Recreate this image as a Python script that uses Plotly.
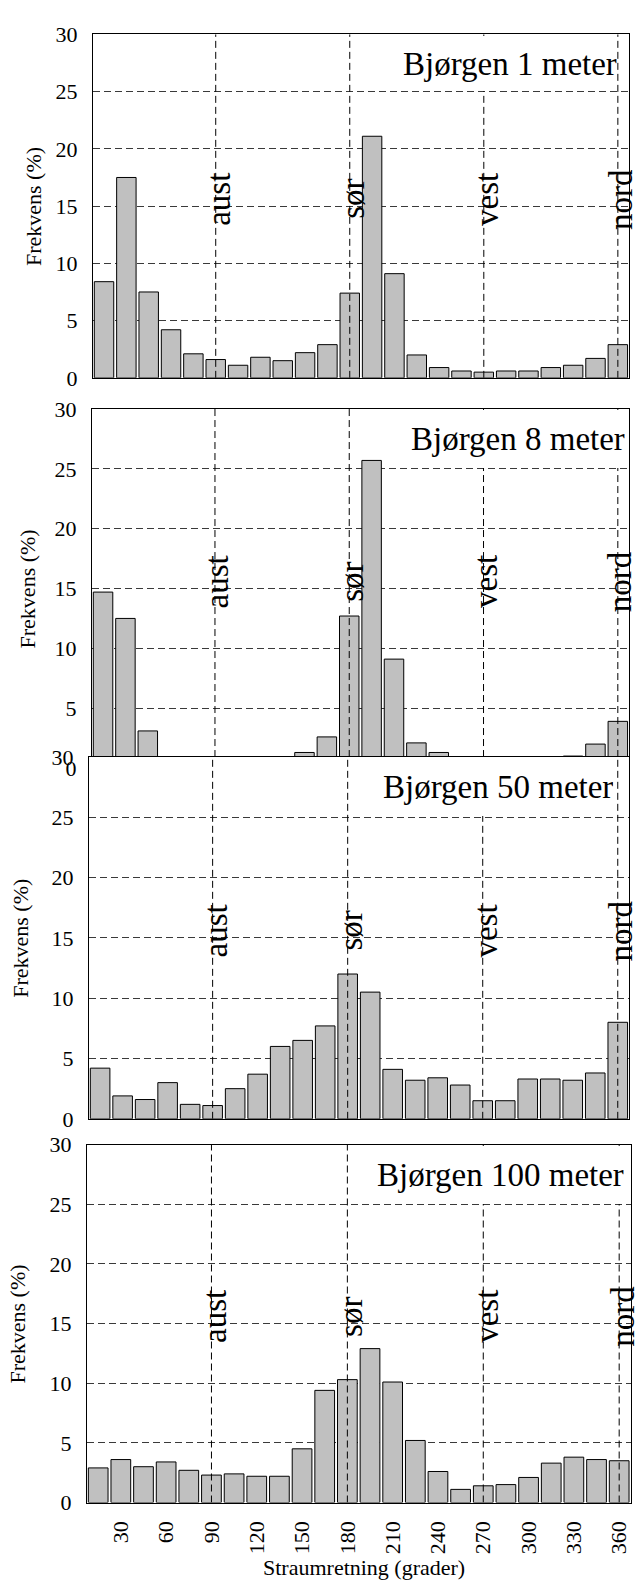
import plotly.graph_objects as go

# Current direction bins (degrees) and frequency (%) per depth
direction = [15, 30, 45, 60, 75, 90, 105, 120, 135, 150, 165, 180,
             195, 210, 225, 240, 255, 270, 285, 300, 315, 330, 345, 360]

freq_1m = [8.4, 17.5, 7.5, 4.2, 2.1, 1.6, 1.1, 1.8, 1.5, 2.2, 2.9, 7.4,
           21.1, 9.1, 2.0, 0.9, 0.6, 0.5, 0.6, 0.6, 0.9, 1.1, 1.7, 2.9]
freq_8m = [14.7, 12.5, 3.1, 0.0, 0.0, 0.0, 0.0, 0.0, 0.0, 1.3, 2.6, 12.7,
           25.7, 9.1, 2.1, 1.3, 0.0, 0.0, 0.0, 0.0, 0.0, 1.0, 2.0, 3.9]
freq_50m = [4.2, 1.9, 1.6, 3.0, 1.2, 1.1, 2.5, 3.7, 6.0, 6.5, 7.7, 12.0,
            10.5, 4.1, 3.2, 3.4, 2.8, 1.5, 1.5, 3.3, 3.3, 3.2, 3.8, 8.0]
freq_100m = [2.9, 3.6, 3.0, 3.4, 2.7, 2.3, 2.4, 2.2, 2.2, 4.5, 9.4, 10.3,
             12.9, 10.1, 5.2, 2.6, 1.1, 1.4, 1.5, 2.1, 3.3, 3.8, 3.6, 3.5]

series = [freq_1m, freq_8m, freq_50m, freq_100m]
panel_titles = ["Bjørgen 1 meter", "Bjørgen 8 meter",
                "Bjørgen 50 meter", "Bjørgen 100 meter"]

compass_deg = [90, 180, 270, 360]
compass_names = ["aust", "sør", "vest", "nord"]

x_tick_vals = [30, 60, 90, 120, 150, 180, 210, 240, 270, 300, 330, 360]
y_tick_vals = [0, 5, 10, 15, 20, 25, 30]
y_range = [0, 30]
x_range = [7.5, 367.5]
compass_label_level = 15

y_title = "Frekvens (%)"
x_title = "Straumretning (grader)"

# Page geometry (pixels)
W, H = 636, 1591
# left, right, top, bottom of each plot frame
frames = [
    (93, 630, 22.7, 371.7),
    (92, 630, 403.3, 768.1),
    (89, 630, 756.7, 1124.5),
    (87, 631.5, 1150.7, 1514.3),
]
y_title_x = [33, 28, 21, 18]
title_xshift = [-12, -4, -16, -7]

FONT = "Liberation Serif, Times New Roman, serif"
BAR_FILL = "#c0c0c0"

fig = go.Figure()
layout_axes = {}
annotations = []

for i, (vals, frame) in enumerate(zip(series, frames)):
    n = "" if i == 0 else str(i + 1)
    xa, ya = "x" + n, "y" + n
    left, right, top, bottom = frame

    fig.add_trace(go.Bar(
        x=direction, y=vals, xaxis=xa, yaxis=ya,
        marker=dict(color=BAR_FILL, line=dict(color="black", width=1)),
        showlegend=False, hoverinfo="x+y",
    ))

    # dashed compass lines across the full height of the panel
    lx, ly = [], []
    for d in compass_deg:
        lx += [d, d, None]
        ly += [y_range[0], y_range[1], None]
    fig.add_trace(go.Scatter(
        x=lx, y=ly, xaxis=xa, yaxis=ya, mode="lines",
        line=dict(color="black", width=1, dash="7px,4px"),
        showlegend=False, hoverinfo="skip",
    ))

    last = i == len(series) - 1
    layout_axes["xaxis" + n] = dict(
        domain=[left / W, right / W], anchor=ya, range=x_range,
        tickmode="array", tickvals=x_tick_vals, ticks="",
        showticklabels=last, tickangle=-90, ticklabelstandoff=9,
        tickfont=dict(family=FONT, size=22, color="black"),
        showgrid=False, zeroline=False,
        showline=True, mirror=True, linecolor="black", linewidth=1,
    )
    layout_axes["yaxis" + n] = dict(
        domain=[1 - bottom / H, 1 - top / H], anchor=xa, range=y_range,
        tickmode="array", tickvals=y_tick_vals, ticks="",
        ticklabelstandoff=10,
        tickfont=dict(family=FONT, size=22, color="black"),
        showgrid=True, gridcolor="#3a3a3a", gridwidth=1, griddash="7px,4px",
        zeroline=False,
        showline=True, mirror=True, linecolor="black", linewidth=1,
    )

    for d, name in zip(compass_deg, compass_names):
        annotations.append(dict(
            x=d, y=compass_label_level, xref=xa, yref=ya,
            text=name, textangle=-90, showarrow=False,
            xanchor="center", yanchor="middle", xshift=3, yshift=7,
            font=dict(family=FONT, size=33, color="black"),
        ))

    box_h = (bottom - top) / 6 - 3
    annotations.append(dict(
        x=1, y=1, xref=xa + " domain", yref=ya + " domain",
        text=panel_titles[i], showarrow=False,
        xanchor="right", yanchor="top", xshift=title_xshift[i], yshift=-1.5,
        height=box_h, valign="middle", borderpad=0, borderwidth=0,
        bgcolor="white",
        font=dict(family=FONT, size=33, color="black"),
    ))

    annotations.append(dict(
        x=y_title_x[i] / W, y=1 - (top + bottom) / 2 / H,
        xref="paper", yref="paper", text=y_title, textangle=-90,
        showarrow=False, xanchor="center", yanchor="middle",
        font=dict(family=FONT, size=22, color="black"),
    ))

annotations.append(dict(
    x=365 / W, y=1 - 1580 / H, xref="paper", yref="paper",
    text=x_title, showarrow=False, xanchor="center", yanchor="middle",
    font=dict(family=FONT, size=22, color="black"),
))

fig.update_layout(
    width=W, height=H,
    margin=dict(l=0, r=0, t=0, b=0),
    paper_bgcolor="white", plot_bgcolor="white",
    bargap=0.13, showlegend=False,
    annotations=annotations,
    **layout_axes,
)

fig.write_html("out.html")
